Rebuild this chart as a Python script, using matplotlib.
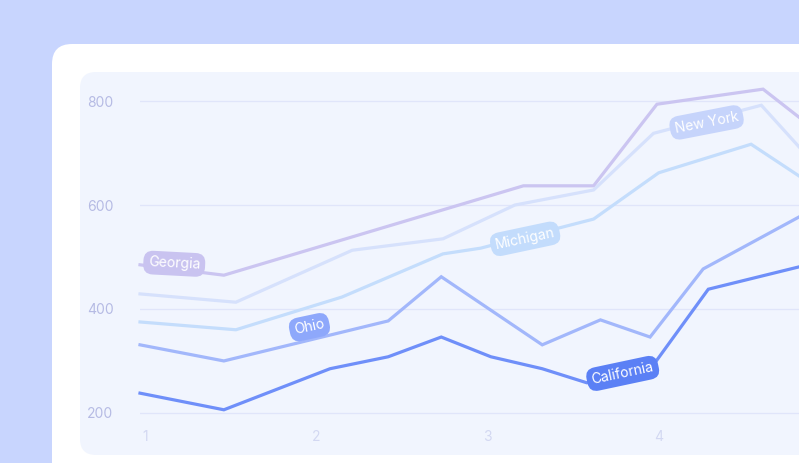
import matplotlib
matplotlib.use("Agg")
import matplotlib.pyplot as plt
from matplotlib.patches import FancyBboxPatch

plt.rcParams["font.family"] = ["Inter", "DejaVu Sans"]

# series: (x, y)
georgia_x = [0.97, 1.46, 3.21, 3.62, 3.99, 4.61, 4.82]
georgia_y = [485, 465, 637, 637, 794, 823, 769]
newyork_x = [0.97, 1.53, 2.21, 2.74, 3.16, 3.62, 3.97, 4.60, 4.82]
newyork_y = [429, 413, 513, 535, 600, 629, 738, 792, 712]
michigan_x = [0.97, 1.53, 2.15, 2.74, 2.96, 3.62, 4.00, 4.54, 4.82]
michigan_y = [375, 360, 423, 506, 517, 573, 662, 717, 656]
ohio_x = [0.97, 1.46, 2.42, 2.73, 3.32, 3.66, 3.95, 4.26, 4.82]
ohio_y = [331, 300, 377, 462, 331, 379, 346, 477, 577]
california_x = [0.97, 1.46, 2.08, 2.42, 2.73, 3.02, 3.32, 3.58, 3.94, 4.29, 4.82]
california_y = [238, 206, 285, 308, 346, 308, 285, 258, 279, 438, 481]

x_ticks = [1, 2, 3, 4]
y_ticks = [200, 400, 600, 800]

# name, x, y, colour, label position (x, y, angle), label colour
series = [
    ("Georgia", georgia_x, georgia_y, "#cbc5f1", (1.17, 487, -3), "#c9c3f0"),
    ("New York", newyork_x, newyork_y, "#d6e1fc", (4.28, 759, 11), "#c6d4fb"),
    ("Michigan", michigan_x, michigan_y, "#c4ddfc", (3.22, 535, 12), "#c3dcfc"),
    ("Ohio", ohio_x, ohio_y, "#a2b7fb", (1.96, 365, 12), "#8ea8fb"),
    ("California", california_x, california_y, "#6f8ff9", (3.79, 276, 12), "#5b80f5"),
]

fig = plt.figure(figsize=(7.99, 4.63), dpi=100)
fig.patch.set_facecolor("#c8d5fe")
W, H = 799, 463


def fbox(x0, y0, x1, y1, r, color):
    p = FancyBboxPatch((x0 / W, 1 - y1 / H), (x1 - x0) / W, (y1 - y0) / H,
                       boxstyle=f"round,pad=0,rounding_size={r / W}",
                       transform=fig.transFigure, facecolor=color,
                       edgecolor="none", mutation_aspect=W / H, zorder=-5)
    fig.patches.append(p)


fbox(52, 44, 860, 520, 20, "white")
fbox(80, 72, 840, 455, 16, "#f1f5fe")

ax = fig.add_axes([140 / W, 8 / H, 659 / W, 383 / H])
ax.set_zorder(5)
ax.set_facecolor("none")
ax.set_xlim(0.97, 4.82)
ax.set_ylim(119, 856)
for s in ax.spines.values():
    s.set_visible(False)
ax.set_yticks(y_ticks)
ax.set_xticks([])
ax.tick_params(axis="y", length=0, pad=19, labelcolor="#b6bbe4", labelsize=10)
for v in y_ticks:
    ax.axhline(v, color="#e0e5fa", lw=0.9, zorder=0)
for t in x_ticks:
    ax.text(t, 154, str(t), color="#d3d8f2", fontsize=10, ha="center", va="center")

for name, xs, ys, col, (lx, ly, ang), lcol in series:
    ax.plot(xs, ys, color=col, lw=2.3, solid_joinstyle="miter", clip_on=False)
    ax.text(lx, ly, name, rotation=ang, ha="center", va="center", color="white",
            fontsize=10, rotation_mode="anchor", zorder=5,
            bbox=dict(boxstyle="round,pad=0.35,rounding_size=0.7", fc=lcol, ec="none"))

fig.savefig("out.png", dpi=100, facecolor=fig.get_facecolor())
